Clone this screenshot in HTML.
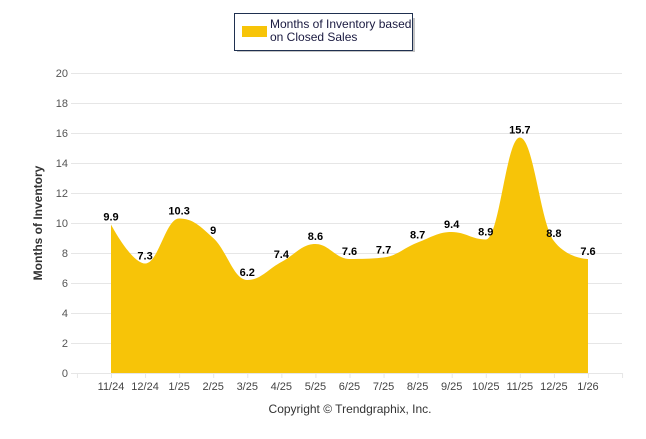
<!DOCTYPE html>
<html><head><meta charset="utf-8"><style>
body{margin:0;background:#fff;width:646px;height:434px;overflow:hidden;font-family:"Liberation Sans",Arial,sans-serif}
</style></head><body>
<svg id="chart" width="646" height="434" xmlns="http://www.w3.org/2000/svg" font-family="Liberation Sans, Arial, sans-serif">
<g id="legend">
<rect x="235" y="16" width="178" height="34" fill="#555" opacity="0.35" transform="translate(2,2)"/>
<rect x="234.5" y="13.5" width="178" height="37" fill="#fff" stroke="#1f3050" stroke-width="1"/>
<rect x="242" y="26" width="25" height="11" fill="#f7c408"/>
<text x="270" y="28" font-size="12" fill="#1a1a40">Months of Inventory based</text>
<text x="270" y="41" font-size="12" fill="#1a1a40">on Closed Sales</text>
</g>
<g id="grid"></g>
<g id="area"></g>
<g id="xaxis"></g>
<g id="labels"></g>
<text transform="translate(42,223) rotate(-90)" text-anchor="middle" font-size="12" font-weight="bold" fill="#333">Months of Inventory</text>
<text x="350" y="413" text-anchor="middle" font-size="12" fill="#333">Copyright © Trendgraphix, Inc.</text>
</svg>
<script>
const categories=["11/24","12/24","1/25","2/25","3/25","4/25","5/25","6/25","7/25","8/25","9/25","10/25","11/25","12/25","1/26"];
const values=[9.9,7.3,10.3,9,6.2,7.4,8.6,7.6,7.7,8.7,9.4,8.9,15.7,8.8,7.6];
const yTicks=[0,2,4,6,8,10,12,14,16,18,20];
const NS="http://www.w3.org/2000/svg";
const x0=111,step=34.07,yZero=373,yTop=73,yMax=20;
const xs=i=>x0+i*step;
const ys=v=>yZero-(v/yMax)*(yZero-yTop);
function mk(tag,attrs,parent){const e=document.createElementNS(NS,tag);for(const k in attrs)e.setAttribute(k,attrs[k]);parent.appendChild(e);return e;}
const grid=document.getElementById('grid');
yTicks.forEach(t=>{
  const l=mk('line',{x1:71,x2:622,y1:ys(t)+0.5,y2:ys(t)+0.5,stroke:'#e6e6e6'},grid);
  
  
  const tx=mk('text',{x:68,y:ys(t)+4,'text-anchor':'end','font-size':'11',fill:'#555'},grid);
  tx.textContent=t;
  
  
});
// Highcharts-like spline
const pts=values.map((v,i)=>[xs(i),ys(v)]);
function ctrl(i){
  const sm=1.5,den=sm+1;
  const [px,py]=pts[i],[lx,ly]=pts[i-1],[nx,ny]=pts[i+1];
  let lcx=(sm*px+lx)/den,lcy=(sm*py+ly)/den,rcx=(sm*px+nx)/den,rcy=(sm*py+ny)/den;
  const c=((rcy-lcy)*(rcx-px))/(rcx-lcx)+py-rcy;
  lcy+=c;rcy+=c;
  if(lcy>py&&lcy>ly){lcy=Math.max(py,ly);rcy=2*py-lcy;}else if(lcy<py&&lcy<ly){lcy=Math.min(py,ly);rcy=2*py-lcy;}
  if(rcy>py&&rcy>ny){rcy=Math.max(py,ny);lcy=2*py-rcy;}else if(rcy<py&&rcy<ny){rcy=Math.min(py,ny);lcy=2*py-rcy;}
  return {l:[lcx,lcy],r:[rcx,rcy]};
}
const cs=pts.map((p,i)=>(i>0&&i<pts.length-1)?ctrl(i):{l:p,r:p});
let d=`M${pts[0][0]},${yZero} L${pts[0][0]},${pts[0][1]}`;
for(let i=1;i<pts.length;i++){
  const a=cs[i-1].r,b=cs[i].l;
  d+=` C${a[0]},${a[1]} ${b[0]},${b[1]} ${pts[i][0]},${pts[i][1]}`;
}
d+=` L${pts[pts.length-1][0]},${yZero} Z`;
const area=mk('path',{d:d,fill:'#f7c408'},document.getElementById('area'));


const xa=document.getElementById('xaxis');
mk('line',{x1:71,x2:622,y1:373.5,y2:373.5,stroke:'#e6e6e6'},xa);
for(let i=-1;i<=categories.length;i++){mk('line',{x1:xs(i)+0.5,x2:xs(i)+0.5,y1:373,y2:378,stroke:'#e6e6e6'},xa);}
categories.forEach((c,i)=>{
  const t=mk('text',{x:xs(i),y:390,'text-anchor':'middle','font-size':'11',fill:'#444'},xa);
  t.textContent=c;
  
  
});
const lab=document.getElementById('labels');
values.forEach((v,i)=>{
  const t=mk('text',{x:xs(i),y:ys(v)-4,'text-anchor':'middle','font-size':'11','font-weight':'bold',fill:'#000'},lab);
  t.textContent=v;
  
  
});
</script>
</body></html>
